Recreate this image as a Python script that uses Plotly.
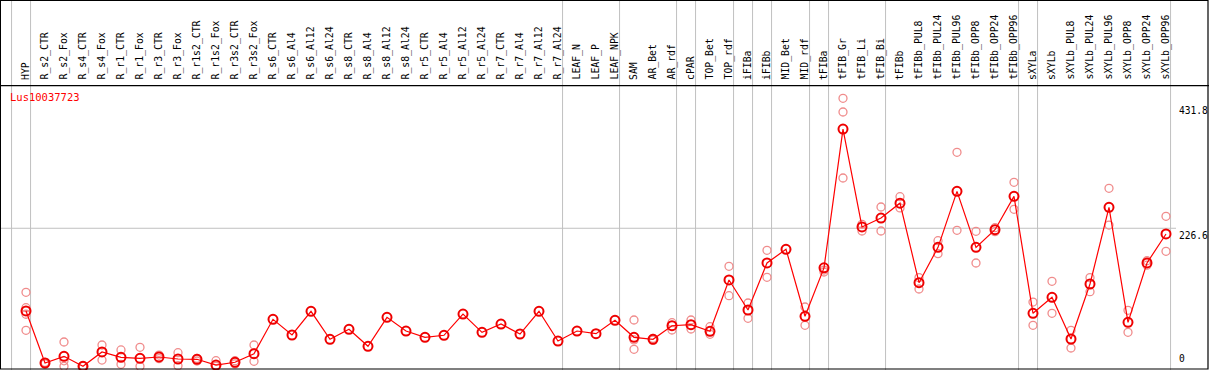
import plotly.graph_objects as go

# ---------------- data ----------------
gene = "Lus10037723"
categories = [
    "HYP", "R_s2_CTR", "R_s2_Fox", "R_s4_CTR", "R_s4_Fox", "R_r1_CTR", "R_r1_Fox",
    "R_r3_CTR", "R_r3_Fox", "R_r1s2_CTR", "R_r1s2_Fox", "R_r3s2_CTR", "R_r3s2_Fox",
    "R_s6_CTR", "R_s6_Al4", "R_s6_Al12", "R_s6_Al24", "R_s8_CTR", "R_s8_Al4",
    "R_s8_Al12", "R_s8_Al24", "R_r5_CTR", "R_r5_Al4", "R_r5_Al12", "R_r5_Al24",
    "R_r7_CTR", "R_r7_Al4", "R_r7_Al12", "R_r7_Al24", "LEAF_N", "LEAF_P", "LEAF_NPK",
    "SAM", "AR_Bet", "AR_rdf", "cPAR", "TOP_Bet", "TOP_rdf", "iFIBa", "iFIBb",
    "MID_Bet", "MID_rdf", "tFIBa", "tFIB_Gr", "tFIB_Li", "tFIB_Bi", "tFIBb",
    "tFIBb_PUL8", "tFIBb_PUL24", "tFIBb_PUL96", "tFIBb_OPP8", "tFIBb_OPP24", "tFIBb_OPP96",
    "sXYLa", "sXYLb", "sXYLb_PUL8", "sXYLb_PUL24", "sXYLb_PUL96", "sXYLb_OPP8",
    "sXYLb_OPP24", "sXYLb_OPP96",
]
mean_values = [
    90.8, 5.4, 16.4, 0.0, 23.5, 14.8, 13.1, 15.3, 12.0, 11.5, 2.1, 6.6, 20.7,
    77.1, 51.4, 90.3, 44.3, 60.7, 32.8, 80.4, 57.9, 47.6, 50.9, 85.8, 55.8,
    69.4, 53.0, 90.3, 41.5, 57.9, 53.5, 75.5,
    47.6, 44.3, 66.6, 68.3, 57.4, 141.7, 92.4, 169.6, 192.1, 82.1, 161.6,
    389.4, 228.7, 243.4, 267.8,
    137.3, 195.3, 287.2, 195.3, 224.2, 279.0,
    87.0, 113.3, 44.8, 135.1, 261.0, 72.2, 169.6, 217.2,
]
replicates = [
    [121.5, 96.2, 85.4, 59.1], [6.5, 4.0], [39.9, 9.0, 0.0], [1.0, 0.0], [35.0, 10.3],
    [26.8, 3.3], [31.2, 0.0], [18.5, 12.5], [22.3, 1.0], [13.1, 8.7], [9.2, 0.0],
    [9.2, 4.0], [35.0, 8.2],
    [], [], [], [], [], [], [], [], [], [], [], [], [], [], [], [], [], [], [],
    [76.0, 43.3, 27.9], [46.0, 43.0], [71.6, 59.6], [76.0, 61.2], [65.0, 52.5],
    [164.1, 115.9], [103.9, 78.8], [190.4, 146.1], [], [97.3, 67.3], [158.0, 154.8],
    [439.9, 417.4, 309.1], [233.1, 222.1], [261.5, 222.1], [278.4, 259.9],
    [145.5, 126.9], [206.2, 184.8], [351.3, 223.2], [221.6, 169.6], [227.5, 221.0],
    [302.0, 257.7],
    [105.5, 67.3], [139.5, 87.0], [59.1, 30.0], [145.5, 122.5], [292.2, 231.9],
    [91.9, 55.8], [173.3, 166.0], [246.2, 188.8],
]
# separators are drawn right after these categories (None = before the first one)
group_ends = [None, "HYP", "R_r7_Al24", "LEAF_NPK", "AR_rdf", "cPAR", "TOP_rdf",
              "iFIBa", "iFIBb", "MID_rdf", "tFIBa", "tFIB_Bi", "tFIBb_OPP96",
              "sXYLa", "sXYLb_OPP96"]
y_ticks = [431.8, 226.6]
y_zero = 0

# ---------------- figure ----------------
W, H = 1209, 370
FONT = "DejaVu Sans Mono"

rep_x, rep_y = [], []
for c, reps in zip(categories, replicates):
    for v in reps:
        rep_x.append(c)
        rep_y.append(v)

fig = go.Figure()
fig.add_trace(go.Scatter(
    x=rep_x, y=rep_y, mode="markers",
    marker=dict(symbol="circle-open", size=8, color="rgb(240,140,140)",
                line=dict(width=1.3)),
    hoverinfo="skip", showlegend=False, cliponaxis=False,
))
fig.add_trace(go.Scatter(
    x=categories, y=mean_values, mode="lines+markers",
    line=dict(color="#ff0000", width=1.2),
    marker=dict(symbol="circle-open", size=9, color="#ee0000",
                line=dict(width=2)),
    showlegend=False, cliponaxis=False,
))

x_left = -26 / 19
x_right = (W - 26) / 19
v_top = 366.3 / 0.6092
v_bot = (366.3 - H) / 0.6092

shapes = []
for g in group_ends:
    idx = -1 if g is None else categories.index(g)
    xs = idx + 0.24
    shapes.append(dict(type="line", xref="x", yref="paper", x0=xs, x1=xs, y0=0, y1=1,
                       line=dict(color="#c0c0c0", width=1), layer="below"))
shapes.append(dict(type="line", xref="paper", yref="y", x0=0, x1=1176 / W,
                   y0=y_ticks[1], y1=y_ticks[1],
                   line=dict(color="#c0c0c0", width=1), layer="below"))
shapes.append(dict(type="line", xref="paper", yref="paper", x0=0, x1=1,
                   y0=1 - 85.7 / H, y1=1 - 85.7 / H, line=dict(color="black", width=1.2)))
shapes.append(dict(type="rect", xref="paper", yref="paper", x0=0.4 / W, x1=1 - 1 / W,
                   y0=1 / H, y1=1 - 0.5 / H, line=dict(color="black", width=1.2)))

annotations = []
for c in categories:
    annotations.append(dict(x=c, xref="x", y=1 - 82 / H, yref="paper", text=c,
                            textangle=-90, xanchor="center", yanchor="bottom",
                            showarrow=False, font=dict(family=FONT, size=9.8, color="black")))
annotations.append(dict(x=8 / W, y=1 - 97.5 / H, xref="paper", yref="paper", text=gene,
                        xanchor="left", yanchor="middle", showarrow=False,
                        font=dict(family=FONT, size=10.5, color="#ff0000")))
for t in y_ticks:
    annotations.append(dict(x=1176.5 / W, xref="paper", y=t, yref="y", text=f"{t}",
                            xanchor="left", yanchor="top", showarrow=False,
                            font=dict(family=FONT, size=9.6, color="black")))
annotations.append(dict(x=1176.5 / W, xref="paper", y=y_zero, yref="y", text=f"{y_zero}",
                        xanchor="left", yanchor="bottom", showarrow=False,
                        font=dict(family=FONT, size=9.6, color="black")))

fig.update_layout(
    width=W, height=H,
    margin=dict(l=0, r=0, t=0, b=0, pad=0),
    paper_bgcolor="white", plot_bgcolor="white",
    xaxis=dict(type="category", categoryorder="array", categoryarray=categories,
               range=[x_left, x_right], visible=False, fixedrange=True),
    yaxis=dict(range=[v_bot, v_top], visible=False, fixedrange=True),
    shapes=shapes, annotations=annotations,
)

fig.write_html("out.html", config={"displayModeBar": False},
               post_script="document.body.style.margin='0px';document.body.style.overflow='hidden';")
